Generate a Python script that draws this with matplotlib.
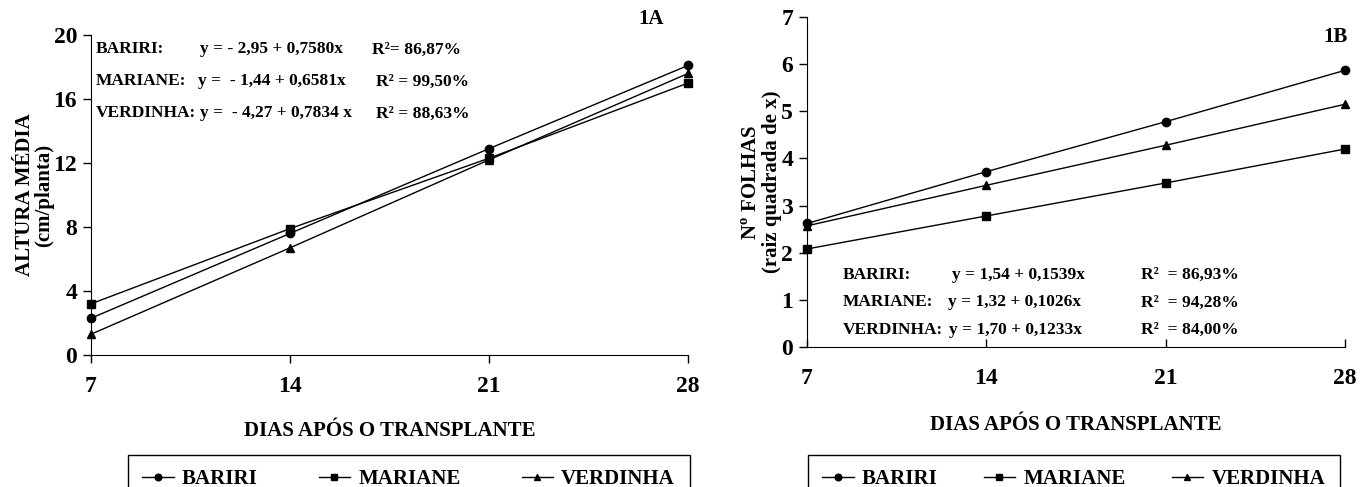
import numpy as np
import matplotlib
matplotlib.use("Agg")
import matplotlib.pyplot as plt

plt.rcParams['font.family'] = ['Liberation Serif', 'DejaVu Serif']
plt.rcParams['font.weight'] = 'bold'
plt.rcParams['mathtext.fontset'] = 'custom'
plt.rcParams['mathtext.bf'] = 'Liberation Serif:bold'
plt.rcParams['mathtext.rm'] = 'Liberation Serif:bold'

dias = [7, 14, 21, 28]
cultivares = ["BARIRI", "MARIANE", "VERDINHA"]
marcadores = ["o", "s", "^"]

# 1A - altura media (cm/planta)
altura_bariri = [2.3, 7.6, 12.9, 18.1]
altura_mariane = [3.2, 7.9, 12.3, 17.0]
altura_verdinha = [1.3, 6.7, 12.2, 17.6]

# 1B - numero de folhas (raiz quadrada de x)
folhas_bariri = [2.62, 3.72, 4.78, 5.87]
folhas_mariane = [2.08, 2.78, 3.48, 4.20]
folhas_verdinha = [2.57, 3.43, 4.28, 5.15]

eq_a = ["y = - 2,95 + 0,7580x", "y =  - 1,44 + 0,6581x", "y =  - 4,27 + 0,7834 x"]
r2_a = ["R²= 86,87%", "R² = 99,50%", "R² = 88,63%"]
eq_b = ["y = 1,54 + 0,1539x", "y = 1,32 + 0,1026x", "y = 1,70 + 0,1233x"]
r2_b = ["R²  = 86,93%", "R²  = 94,28%", "R²  = 84,00%"]

fig = plt.figure(figsize=(13.6, 4.87), dpi=100)
ax1 = fig.add_axes([0.0669, 0.271, 0.439, 0.657])
ax2 = fig.add_axes([0.5934, 0.2875, 0.3956, 0.6775])

for ax in (ax1, ax2):
    ax.spines['top'].set_visible(False)
    ax.spines['right'].set_visible(False)
    ax.set_xlim(7, 28)
    ax.set_xticks(dias)
    ax.tick_params(labelsize=17, width=1, length=6, pad=4)

def draw(ax, series):
    handles = []
    for vals, m, nome in zip(series, marcadores, cultivares):
        h, = ax.plot(dias, vals, color='black', lw=1, marker=m, ms=6,
                     label=nome, clip_on=False)
        handles.append(h)
    return handles

h1 = draw(ax1, [altura_bariri, altura_mariane, altura_verdinha])
h2 = draw(ax2, [folhas_bariri, folhas_mariane, folhas_verdinha])

ax1.set_ylim(0, 20)
ax1.set_yticks([0, 4, 8, 12, 16, 20])
ax1.tick_params(axis='x', direction='out', pad=9)
ax1.set_ylabel("ALTURA MÉDIA\n(cm/planta)", fontsize=15, fontweight='bold',
               linespacing=0.95)
ax1.yaxis.set_label_coords(-0.061, 0.5)
ax1.set_xlabel("DIAS APÓS O TRANSPLANTE", fontsize=15, fontweight='bold')
ax1.xaxis.set_label_coords(0.5, -0.205)

ax2.set_ylim(0, 7)
ax2.set_yticks(range(8))
ax2.tick_params(axis='x', direction='in', pad=15)
ax2.set_ylabel("N$^{\\mathbf{o}}$ FOLHAS\n(raiz quadrada de x)", fontsize=15,
               fontweight='bold', linespacing=0.95)
ax2.yaxis.set_label_coords(-0.047, 0.5)
ax2.set_xlabel("DIAS APÓS O TRANSPLANTE", fontsize=15, fontweight='bold')
ax2.xaxis.set_label_coords(0.5, -0.205)

# equacoes 1A
ys_a = [0.955, 0.855, 0.755]
xs_eq_a = [0.182, 0.18, 0.182]
for i in range(3):
    ax1.text(0.008, ys_a[i], cultivares[i] + ":", transform=ax1.transAxes,
             fontsize=12.5, fontweight='bold', va='center')
    ax1.text(xs_eq_a[i], ys_a[i], eq_a[i], transform=ax1.transAxes,
             fontsize=12.5, fontweight='bold', va='center')
    ax1.text(0.47 if i == 0 else 0.477, ys_a[i], r2_a[i], transform=ax1.transAxes,
             fontsize=12.5, fontweight='bold', va='center')
ax1.text(0.938, 1.05, "1A", transform=ax1.transAxes, fontsize=15, fontweight='bold',
         ha='center', va='center')

# equacoes 1B
ys_b = [0.218, 0.135, 0.052]
xs_eq_b = [0.27, 0.262, 0.264]
for i in range(3):
    ax2.text(0.067, ys_b[i], cultivares[i] + ":", transform=ax2.transAxes,
             fontsize=12.5, fontweight='bold', va='center')
    ax2.text(xs_eq_b[i], ys_b[i], eq_b[i], transform=ax2.transAxes,
             fontsize=12.5, fontweight='bold', va='center')
    ax2.text(0.62, ys_b[i], r2_b[i], transform=ax2.transAxes,
             fontsize=12.5, fontweight='bold', va='center')
ax2.text(0.982, 0.94, "1B", transform=ax2.transAxes, fontsize=15, fontweight='bold',
         ha='center', va='center')

leg_kw = dict(loc='upper left', ncol=3, mode='expand', fancybox=False,
              edgecolor='black', framealpha=1, fontsize=15, handlelength=1.5,
              handletextpad=0.4, borderpad=0.7, markerscale=0.8, borderaxespad=0)
leg1 = fig.legend(handles=h1, bbox_to_anchor=(0.094, 0.066, 0.413, 0), **leg_kw)
leg2 = fig.legend(handles=h2, bbox_to_anchor=(0.594, 0.066, 0.391, 0), **leg_kw)
for leg in (leg1, leg2):
    leg.get_frame().set_linewidth(1)

fig.savefig("out.png", dpi=100)
